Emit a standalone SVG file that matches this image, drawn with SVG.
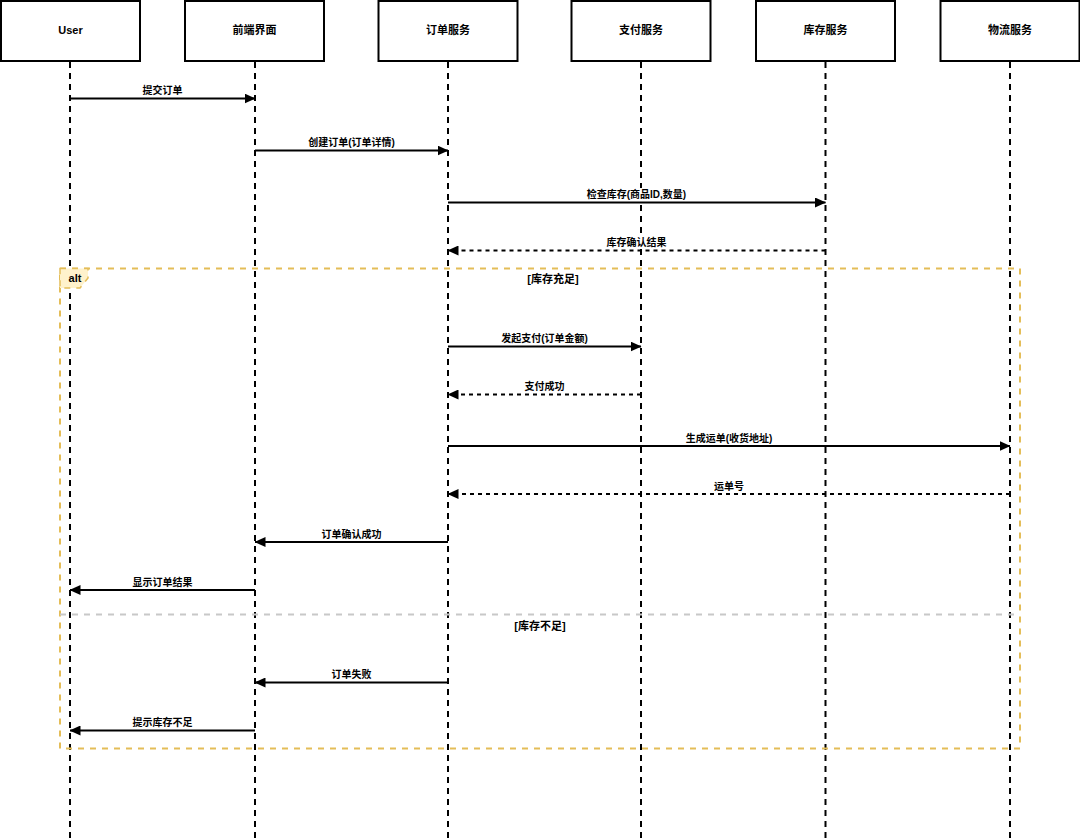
<svg xmlns="http://www.w3.org/2000/svg" width="1080" height="838" viewBox="0 0 1080 838">
<style>
.box{fill:#fff;stroke:#000;stroke-width:2}
.hd{font-family:"Liberation Sans","Noto Sans CJK SC",sans-serif;font-size:11px;font-weight:bold;fill:#000;text-anchor:middle}
.lbl{font-family:"Liberation Sans","Noto Sans CJK SC",sans-serif;font-size:10px;font-weight:bold;fill:#000;text-anchor:middle}
.bg{fill:#fff}
.life{stroke:#000;stroke-width:2;stroke-dasharray:6 5;fill:none}
.msg{stroke:#000;stroke-width:1.8;fill:none;marker-end:url(#ah)}
.ret{stroke:#000;stroke-width:1.8;fill:none;stroke-dasharray:4 4;marker-end:url(#ah)}
.frame{fill:none;stroke:#e4bd58;stroke-width:2;stroke-dasharray:6 6}
.div{stroke:#c8c8c8;stroke-width:2;stroke-dasharray:6 6}
</style>
<defs>
<marker id="ah" markerUnits="userSpaceOnUse" markerWidth="11" markerHeight="10" refX="10.5" refY="5" orient="auto">
<path d="M0,0 L11,5 L0,10 z" fill="#000"/>
</marker>
</defs>
<rect width="1080" height="838" fill="#fff"/>
<g id="lifelines">
<line class="life" x1="70" y1="62" x2="70" y2="838"/>
<line class="life" x1="255" y1="62" x2="255" y2="838"/>
<line class="life" x1="448" y1="62" x2="448" y2="838"/>
<line class="life" x1="641" y1="62" x2="641" y2="838"/>
<line class="life" x1="825.5" y1="62" x2="825.5" y2="838"/>
<line class="life" x1="1010" y1="62" x2="1010" y2="838"/>
</g>
<g id="frame-alt">
<rect class="frame" x="60" y="268.5" width="960" height="480"/>
<line class="div" x1="60" y1="614.5" x2="1020" y2="614.5"/>
<polygon points="60,268.5 88,268.5 88,278 80,288 60,288" fill="#fff2cc" stroke="#e4bd58" stroke-width="1.5" stroke-dasharray="6 6"/>
<text class="hd" x="75" y="282">alt</text>
<text class="hd" x="553" y="283">[库存充足]</text>
<text class="hd" x="540" y="630">[库存不足]</text>
</g>
<g id="node-user"><rect class="box" x="1" y="1" width="139" height="60"/><text class="hd" x="70.5" y="34">User</text></g>
<g id="node-frontend"><rect class="box" x="185" y="1" width="139" height="60"/><text class="hd" x="254.5" y="34">前端界面</text></g>
<g id="node-order"><rect class="box" x="378.5" y="1" width="139" height="60"/><text class="hd" x="448" y="34">订单服务</text></g>
<g id="node-pay"><rect class="box" x="571.5" y="1" width="139" height="60"/><text class="hd" x="641" y="34">支付服务</text></g>
<g id="node-stock"><rect class="box" x="756" y="1" width="139" height="60"/><text class="hd" x="825.5" y="34">库存服务</text></g>
<g id="node-logistics"><rect class="box" x="940.5" y="1" width="139" height="60"/><text class="hd" x="1010" y="34">物流服务</text></g>
<g id="connectors">
<line class="msg" x1="70" y1="98.5" x2="255" y2="98.5"/>
<rect class="bg" x="141.5" y="84" width="42" height="12"/>
<text class="lbl" x="162.5" y="94">提交订单</text>
<line class="msg" x1="255" y1="150.5" x2="448" y2="150.5"/>
<rect class="bg" x="307" y="136" width="89" height="12"/>
<text class="lbl" x="351.5" y="146">创建订单(订单详情)</text>
<line class="msg" x1="448" y1="202.5" x2="825.5" y2="202.5"/>
<rect class="bg" x="585.5" y="188" width="102" height="12"/>
<text class="lbl" x="636.5" y="198">检查库存(商品ID,数量)</text>
<line class="ret" x1="825.5" y1="250.5" x2="448" y2="250.5"/>
<rect class="bg" x="605.5" y="236" width="62" height="12"/>
<text class="lbl" x="636.5" y="246">库存确认结果</text>
<line class="msg" x1="448" y1="346.5" x2="641" y2="346.5"/>
<rect class="bg" x="500" y="332" width="89" height="12"/>
<text class="lbl" x="544.5" y="342">发起支付(订单金额)</text>
<line class="ret" x1="641" y1="394.5" x2="448" y2="394.5"/>
<rect class="bg" x="523.5" y="380" width="42" height="12"/>
<text class="lbl" x="544.5" y="390">支付成功</text>
<line class="msg" x1="448" y1="446" x2="1010" y2="446"/>
<rect class="bg" x="684.5" y="431.5" width="89" height="12"/>
<text class="lbl" x="729" y="441.5">生成运单(收货地址)</text>
<line class="ret" x1="1010" y1="494" x2="448" y2="494"/>
<rect class="bg" x="713" y="479.5" width="32" height="12"/>
<text class="lbl" x="729" y="489.5">运单号</text>
<line class="msg" x1="448" y1="542" x2="255" y2="542"/>
<rect class="bg" x="320.5" y="527.5" width="62" height="12"/>
<text class="lbl" x="351.5" y="537.5">订单确认成功</text>
<line class="msg" x1="255" y1="590" x2="70" y2="590"/>
<rect class="bg" x="131.5" y="575.5" width="62" height="12"/>
<text class="lbl" x="162.5" y="585.5">显示订单结果</text>
<line class="msg" x1="448" y1="682.5" x2="255" y2="682.5"/>
<rect class="bg" x="330.5" y="668" width="42" height="12"/>
<text class="lbl" x="351.5" y="678">订单失败</text>
<line class="msg" x1="255" y1="730.5" x2="70" y2="730.5"/>
<rect class="bg" x="131.5" y="716" width="62" height="12"/>
<text class="lbl" x="162.5" y="726">提示库存不足</text>
</g>
</svg>
